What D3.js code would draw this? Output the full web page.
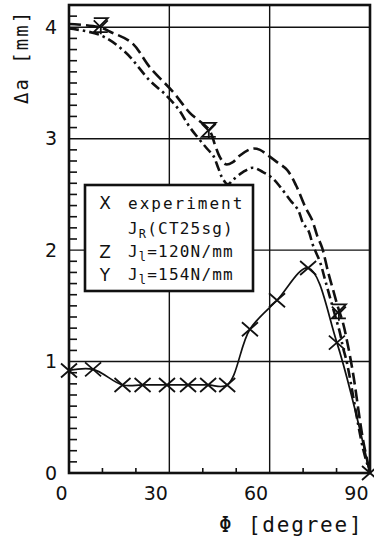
<!DOCTYPE html>
<html><head><meta charset="utf-8">
<script src="https://cdn.jsdelivr.net/npm/d3@7"></script>
<style>
html,body{margin:0;padding:0;background:#fff;}
svg{display:block;}
</style></head>
<body>
<svg id="c" width="374" height="543"></svg>
<script>
// ---- data ----
const phiTicks = [0, 30, 60, 90];
const daTicks = [0, 1, 2, 3, 4];
const phiMinorTicks = [10, 20, 40, 50, 70, 80];
const daMinorTicks = d3.range(1, 42).map(i => i / 10).filter(v => Math.abs(v - Math.round(v)) > 1e-6);

// experiment (X markers)
const expPhi = [0, 7.2, 16, 22, 29.3, 35.6, 41.6, 47.3, 54.1, 62.2, 71.5, 80.1, 90];
const expDa  = [0.92, 0.93, 0.79, 0.79, 0.79, 0.79, 0.79, 0.79, 1.29, 1.55, 1.84, 1.17, 0];

// J_l = 120 N/mm (upper, long dash)
const j120Phi = [0, 9.3, 12.3, 18.8, 24.2, 31.1, 36.2, 41.9, 43.7, 45.2, 46.9, 49.0, 51.1, 54.7, 57.1, 59.5, 62.2, 65.2, 67.9, 70.6, 72.7, 74.2, 75.7, 77.5, 79.0, 80.4, 81.9, 83.1, 84.9, 87.9, 90];
const j120Da  = [4.03, 4.00, 3.96, 3.86, 3.64, 3.42, 3.23, 3.08, 2.94, 2.83, 2.77, 2.79, 2.85, 2.91, 2.90, 2.85, 2.79, 2.72, 2.58, 2.39, 2.27, 2.13, 2.02, 1.80, 1.64, 1.49, 1.35, 1.19, 0.90, 0.30, 0];

// J_l = 154 N/mm (lower, dash-dot)
const j154Phi = [0, 9.3, 16.7, 24.2, 28.7, 32.6, 36.2, 41.3, 43.1, 44.6, 45.8, 47.5, 49.0, 52.0, 55.0, 58.0, 60.7, 63.1, 66.1, 68.5, 70.0, 71.5, 73.0, 75.1, 76.6, 78.1, 79.5, 81.0, 81.9, 83.1, 87.9, 90];
const j154Da  = [3.99, 3.93, 3.78, 3.52, 3.40, 3.27, 3.10, 2.91, 2.85, 2.74, 2.65, 2.59, 2.63, 2.70, 2.74, 2.70, 2.65, 2.57, 2.45, 2.36, 2.24, 2.18, 2.04, 1.89, 1.73, 1.57, 1.42, 1.26, 1.13, 0.99, 0.22, 0];

// Z / Y markers
const zPhi = [9.5, 41.8, 80.7];
const zDa  = [4.02, 3.08, 1.45];
const yPhi = [9.5, 41.8, 80.7];
const yDa  = [4.00, 3.07, 1.43];

const legendLabels = ["experiment", "CT25sg", "=120N/mm", "=154N/mm"];

// ---- drawing ----
const svg = d3.select("#c");
const ink = "#111";
const x = d3.scaleLinear().domain([0, 90]).range([69, 370]);
const y = d3.scaleLinear().domain([0, 4.2]).range([473, 5]);
const H = y(0) - y(4.2);
const W = x(90) - x(0);

// grid
svg.append("g").selectAll("line").data([30, 60]).join("line")
  .attr("x1", d => x(d)).attr("x2", d => x(d)).attr("y1", y(0)).attr("y2", y(4.2))
  .attr("stroke", ink).attr("stroke-width", 1.4);
svg.append("g").selectAll("line").data([1, 2, 3, 4]).join("line")
  .attr("x1", x(0)).attr("x2", x(90)).attr("y1", d => y(d)).attr("y2", d => y(d))
  .attr("stroke", ink).attr("stroke-width", 1.4);

// minor ticks
svg.append("g").selectAll("line").data(daMinorTicks).join("line")
  .attr("x1", x(0)).attr("x2", x(0) + 8).attr("y1", d => y(d)).attr("y2", d => y(d))
  .attr("stroke", ink).attr("stroke-width", 1.6);
svg.append("g").selectAll("line").data(phiMinorTicks).join("line")
  .attr("x1", d => x(d)).attr("x2", d => x(d)).attr("y1", y(0)).attr("y2", y(0) - 5)
  .attr("stroke", ink).attr("stroke-width", 1.6);

// axes labels via d3 axes
const xAxis = svg.append("g").attr("transform", `translate(0,${y(0)})`)
  .call(d3.axisBottom(x).tickValues(phiTicks).tickSize(0).tickPadding(14).tickFormat(d3.format("d")));
xAxis.select(".domain").remove();
xAxis.selectAll("text").attr("text-anchor", "end").attr("dx", "-2")
  .attr("font-family", "DejaVu Sans, sans-serif").attr("font-size", 19).attr("fill", ink);

const yAxis = svg.append("g").attr("transform", `translate(${x(0)},0)`)
  .call(d3.axisLeft(y).tickValues(daTicks).tickSize(0).tickPadding(12).tickFormat(d3.format("d")));
yAxis.select(".domain").remove();
yAxis.selectAll("text")
  .attr("font-family", "DejaVu Sans, sans-serif").attr("font-size", 19).attr("fill", ink);

// axis titles
svg.append("text").attr("x", 219).attr("y", 532)
  .attr("font-family", "DejaVu Sans Mono, monospace").attr("font-size", 21)
  .attr("letter-spacing", 1.8).attr("fill", ink).text("Φ [degree]");
svg.append("text").attr("transform", "translate(28,104) rotate(-90)")
  .attr("font-family", "DejaVu Sans Mono, monospace").attr("font-size", 19)
  .attr("letter-spacing", 2).attr("fill", ink).text("Δa [mm]");

// curves
const line = d3.line().x(d => x(d[0])).y(d => y(d[1])).curve(d3.curveCatmullRom.alpha(0.5));
const zip = (a, b) => a.map((v, i) => [v, b[i]]);

svg.append("path").attr("d", line(zip(j120Phi, j120Da)))
  .attr("fill", "none").attr("stroke", ink).attr("stroke-width", 2.6)
  .attr("stroke-dasharray", "12,5");
svg.append("path").attr("d", line(zip(j154Phi, j154Da)))
  .attr("fill", "none").attr("stroke", ink).attr("stroke-width", 2.6)
  .attr("stroke-dasharray", "10,4,2.5,4");
svg.append("path").attr("d", line(zip(expPhi, expDa)))
  .attr("fill", "none").attr("stroke", ink).attr("stroke-width", 1.7);

// markers
const xShape = "M-8,-7L8,7M-8,7L8,-7";
const zShape = "M-7,-7H7L-7,7H7";
const yShape = "M-7,-7L0,0L7,-7M0,0V7";
svg.append("g").selectAll("path").data(zip(expPhi, expDa)).join("path")
  .attr("transform", d => `translate(${x(d[0])},${y(d[1])})`).attr("d", xShape)
  .attr("fill", "none").attr("stroke", ink).attr("stroke-width", 1.8);
svg.append("g").selectAll("path").data(zip(zPhi, zDa)).join("path")
  .attr("transform", d => `translate(${x(d[0])},${y(d[1])})`).attr("d", zShape)
  .attr("fill", "none").attr("stroke", ink).attr("stroke-width", 1.8);
svg.append("g").selectAll("path").data(zip(yPhi, yDa)).join("path")
  .attr("transform", d => `translate(${x(d[0])},${y(d[1])})`).attr("d", yShape)
  .attr("fill", "none").attr("stroke", ink).attr("stroke-width", 1.8);

// frame
svg.append("rect").attr("x", x(0)).attr("y", y(4.2)).attr("width", W).attr("height", H)
  .attr("fill", "none").attr("stroke", ink).attr("stroke-width", 2.6);

// legend
const lg = svg.append("g");
lg.append("rect").attr("x", 85).attr("y", 185).attr("width", 168).attr("height", 106)
  .attr("fill", "#fff").attr("stroke", ink).attr("stroke-width", 2.6);
const symFont = {"font-family": "DejaVu Sans, sans-serif", "font-size": 17};
const txtFont = {"font-family": "DejaVu Sans Mono, monospace", "font-size": 16};
function applyAttrs(sel, o) { for (const k in o) sel.attr(k, o[k]); return sel; }
applyAttrs(lg.append("text").attr("x", 105).attr("y", 209).attr("text-anchor", "middle").attr("fill", ink), symFont).text("X");
applyAttrs(lg.append("text").attr("x", 105).attr("y", 258).attr("text-anchor", "middle").attr("fill", ink), symFont).text("Z");
applyAttrs(lg.append("text").attr("x", 105).attr("y", 281).attr("text-anchor", "middle").attr("fill", ink), symFont).text("Y");

const t1 = applyAttrs(lg.append("text").attr("x", 128).attr("y", 209).attr("fill", ink), txtFont).attr("letter-spacing", 2);
t1.text(legendLabels[0]);
const t2 = applyAttrs(lg.append("text").attr("x", 128).attr("y", 234).attr("fill", ink), txtFont).attr("letter-spacing", 1.2);
t2.append("tspan").text("J");
t2.append("tspan").attr("font-size", 12).attr("dy", 4).text("R");
t2.append("tspan").attr("dy", -4).text("(" + legendLabels[1] + ")");
const t3 = applyAttrs(lg.append("text").attr("x", 128).attr("y", 257).attr("fill", ink), txtFont).attr("letter-spacing", 1.2);
t3.append("tspan").text("J");
t3.append("tspan").attr("font-size", 12).attr("dy", 4).text("l");
t3.append("tspan").attr("dy", -4).text(legendLabels[2]);
const t4 = applyAttrs(lg.append("text").attr("x", 128).attr("y", 280).attr("fill", ink), txtFont).attr("letter-spacing", 1.2);
t4.append("tspan").text("J");
t4.append("tspan").attr("font-size", 12).attr("dy", 4).text("l");
t4.append("tspan").attr("dy", -4).text(legendLabels[3]);
</script>
</body></html>
